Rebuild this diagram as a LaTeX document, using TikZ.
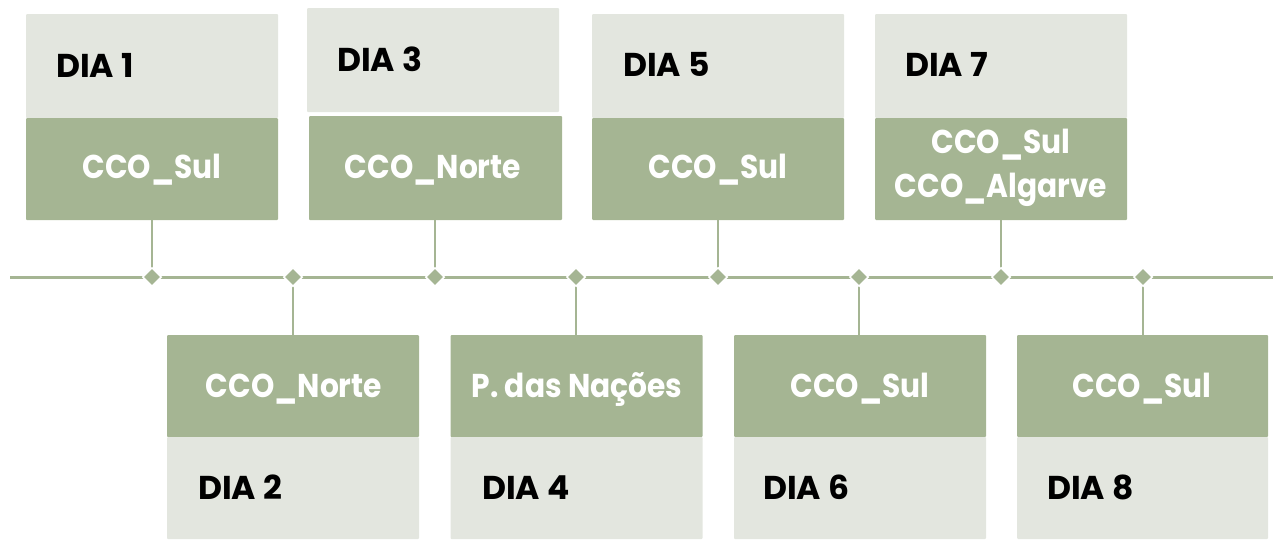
\documentclass[tikz,border=0pt]{standalone}
\usepackage{fontspec}
\setmainfont{Poppins}
\newfontfamily\placefont[FakeStretch=0.9]{Poppins}
\usetikzlibrary{shapes.geometric}
\definecolor{grn}{RGB}{165,181,147}
\definecolor{lgt}{RGB}{227,230,223}
\tikzset{
  box/.style={rectangle, inner sep=0pt, outer sep=0pt, rounded corners=1pt},
  lightbox/.style={box, fill=lgt, minimum width=252pt},
  greenbox/.style={box, fill=grn, minimum width=252pt},
  daylabel/.style={font=\bfseries\fontsize{33}{36}\selectfont, text=black, anchor=base west, inner sep=0pt},
  placelabel/.style={font=\placefont\bfseries\fontsize{33}{36}\selectfont, text=white, anchor=base, inner sep=0pt},
  dmd/.style={diamond, fill=grn, draw=white, line width=1.5pt, minimum size=19pt, inner sep=0pt},
  conn/.style={draw=grn, line width=2pt},
  axisline/.style={draw=grn, line width=3pt},
}
\begin{document}
\begin{tikzpicture}[x=1pt, y=-1pt]
\useasboundingbox (0,0) rectangle (1273,539);
% top boxes
\node[lightbox, minimum height=104pt] (l1) at (152,66) {};
\node[greenbox, minimum height=102pt] (g1) at (152,169) {};
\node[lightbox, minimum height=104pt] (l3) at (433,60) {};
\node[greenbox, minimum height=104pt, minimum width=253pt] (g3) at (435.5,168) {};
\node[lightbox, minimum height=104pt] (l5) at (718,66) {};
\node[greenbox, minimum height=102pt] (g5) at (718,169) {};
\node[lightbox, minimum height=104pt] (l7) at (1001,66) {};
\node[greenbox, minimum height=102pt] (g7) at (1001,169) {};
% bottom boxes
\node[greenbox, minimum height=102pt] (g2) at (293,386) {};
\node[lightbox, minimum height=102pt] (l2) at (293,488) {};
\node[greenbox, minimum height=102pt] (g4) at (576.5,386) {};
\node[lightbox, minimum height=102pt] (l4) at (576.5,488) {};
\node[greenbox, minimum height=102pt] (g6) at (860,386) {};
\node[lightbox, minimum height=102pt] (l6) at (860,488) {};
\node[greenbox, minimum height=102pt, minimum width=251pt] (g8) at (1142.5,386) {};
\node[lightbox, minimum height=102pt, minimum width=251pt] (l8) at (1142.5,488) {};
% timeline
\coordinate (tl) at (10,277);
\coordinate (tr) at (1273,277);
\draw[axisline] (tl) -- (tr);
\coordinate (c1) at (152,277);
\coordinate (c2) at (293,277);
\coordinate (c3) at (435,277);
\coordinate (c4) at (576,277);
\coordinate (c5) at (718,277);
\coordinate (c6) at (859,277);
\coordinate (c7) at (1001,277);
\coordinate (c8) at (1143,277);
\draw[conn] (g1.south) -- (c1);
\draw[conn] (c2) -- (g2.north);
\draw[conn] (g3.south -| c3) -- (c3);
\draw[conn] (c4) -- (g4.north -| c4);
\draw[conn] (g5.south) -- (c5);
\draw[conn] (c6) -- (g6.north -| c6);
\draw[conn] (g7.south) -- (c7);
\draw[conn] (c8) -- (g8.north -| c8);
\foreach \i in {1,...,8} { \node[dmd] (d\i) at (c\i) {}; }
% day labels
\node[daylabel] (t1) at (56,77) {DIA 1};
\node[daylabel] (t3) at (337,71) {DIA 3};
\node[daylabel] (t5) at (623,76) {DIA 5};
\node[daylabel] (t7) at (905,76) {DIA 7};
\node[daylabel] (t2) at (198,499) {DIA 2};
\node[daylabel] (t4) at (482,499) {DIA 4};
\node[daylabel] (t6) at (763,499) {DIA 6};
\node[daylabel] (t8) at (1047,499) {DIA 8};
% place labels
\node[placelabel] (p1) at (152,178) {CCO\_Sul};
\node[placelabel] (p3) at (433,178) {CCO\_Norte};
\node[placelabel] (p5) at (718,178) {CCO\_Sul};
\node[placelabel] (p7a) at (1001,153) {CCO\_Sul};
\node[placelabel] (p7b) at (1001,197) {CCO\_Algarve};
\node[placelabel] (p2) at (294,397) {CCO\_Norte};
\node[placelabel] (p4) at (577,397) {P. das Nações};
\node[placelabel] (p6) at (860,397) {CCO\_Sul};
\node[placelabel] (p8) at (1142,397) {CCO\_Sul};
\end{tikzpicture}
\end{document}
